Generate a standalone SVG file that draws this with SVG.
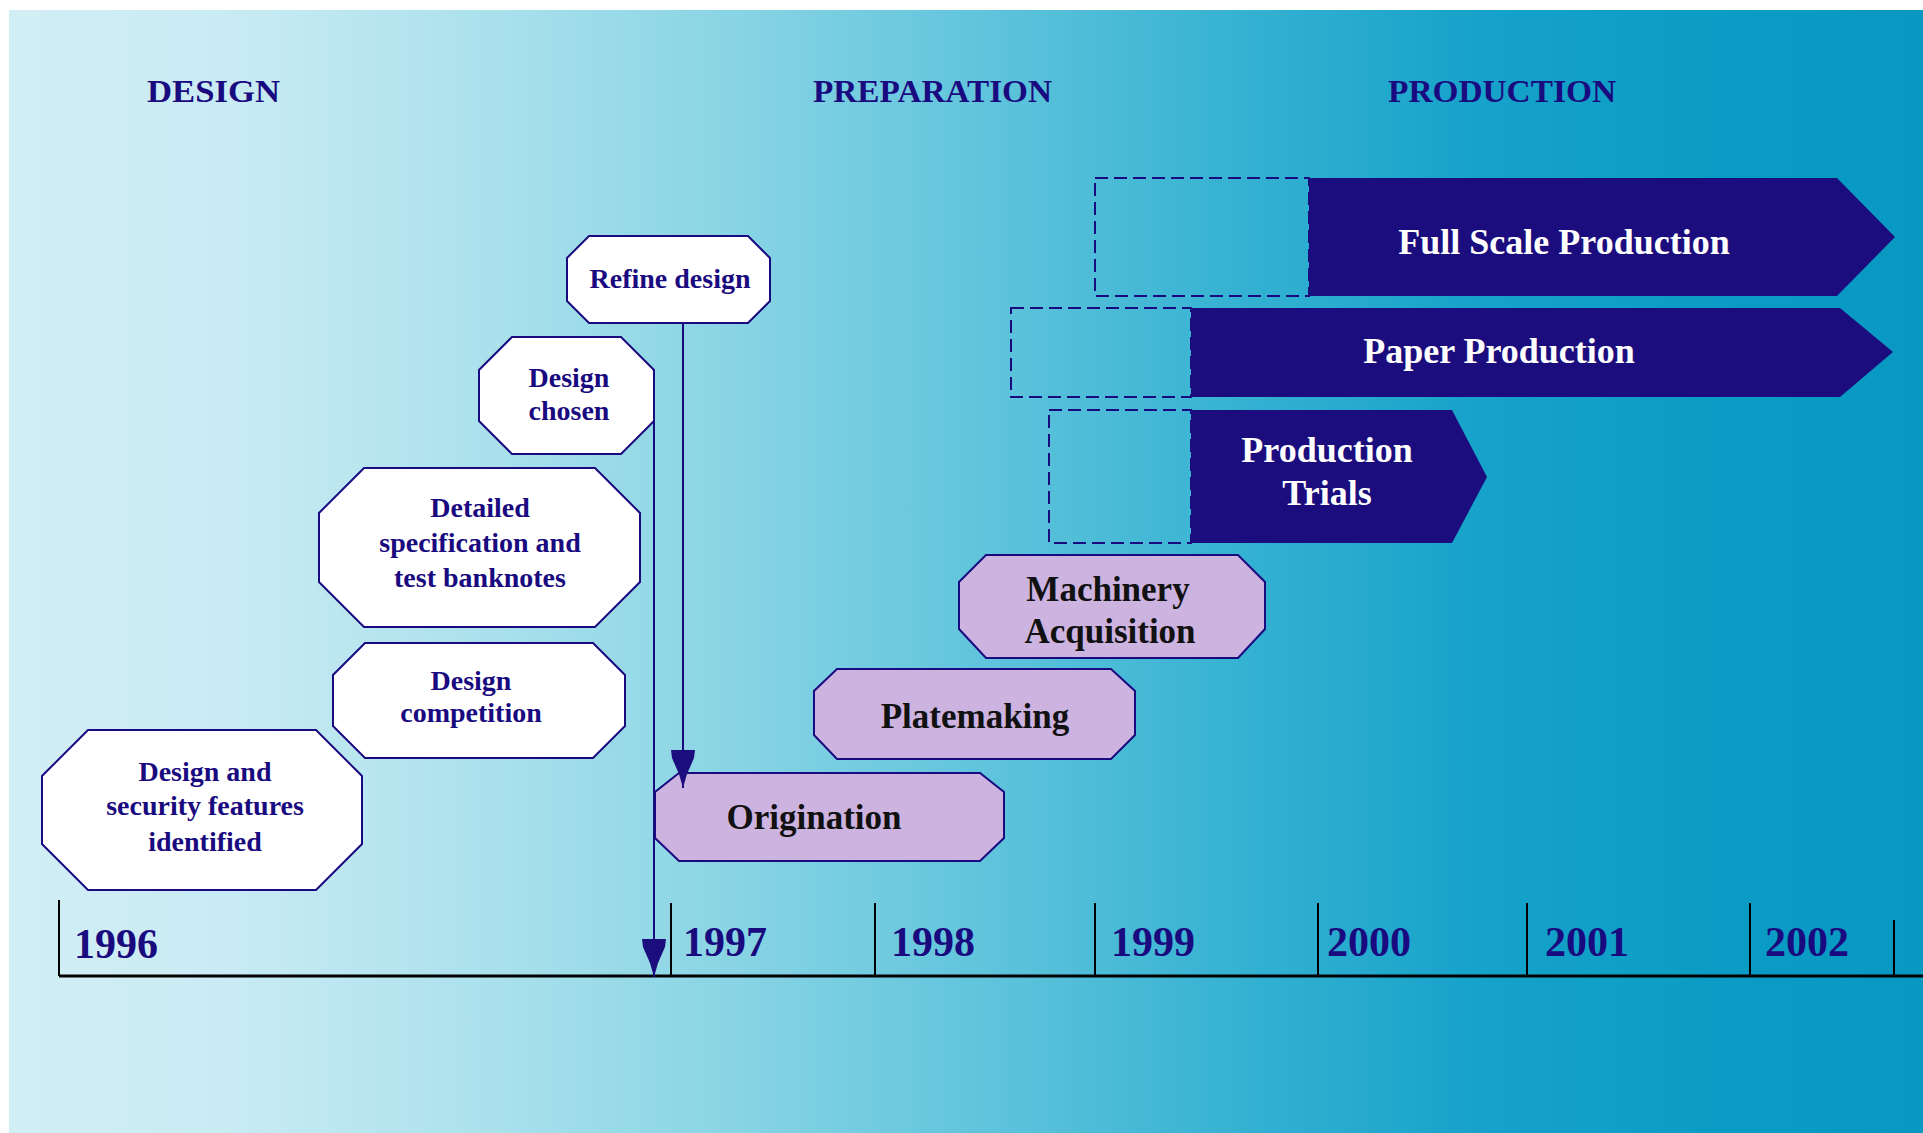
<svg xmlns="http://www.w3.org/2000/svg" width="1923" height="1133" viewBox="0 0 1923 1133">
  <defs>
    <linearGradient id="bg" x1="0" y1="0" x2="1" y2="0">
      <stop offset="0" stop-color="#d2eef5"/>
      <stop offset="0.12" stop-color="#c8ebf3"/>
      <stop offset="0.26" stop-color="#a8e0ec"/>
      <stop offset="0.38" stop-color="#88d4e4"/>
      <stop offset="0.51" stop-color="#60c4dc"/>
      <stop offset="0.64" stop-color="#36b2d2"/>
      <stop offset="0.77" stop-color="#16a2ca"/>
      <stop offset="0.9" stop-color="#0a9cc4"/>
      <stop offset="1" stop-color="#0898c2"/>
    </linearGradient>
    <marker id="arrow" markerUnits="userSpaceOnUse" markerWidth="40" markerHeight="28" viewBox="0 -14 40 28" refX="38" refY="0" orient="auto">
      <path d="M0,-12 L8,-11 L24,-4 L38,0 L24,4 L8,11 L0,12 Z" fill="#1c0d7e"/>
    </marker>
    <style>
      .hdr { font-family: "Liberation Serif", "Times New Roman", serif; font-weight: bold; font-size: 32px; fill: #1a0a80; }
      .year { font-family: "Liberation Serif", "Times New Roman", serif; font-weight: bold; font-size: 42px; fill: #1a0a80; }
      .step { fill: #ffffff; stroke: #1a0a80; stroke-width: 2; }
      .step text, .steptxt { font-family: "Liberation Serif", "Times New Roman", serif; font-weight: bold; font-size: 28px; fill: #1a0a80; stroke: none; text-anchor: middle; }
      .prep { fill: #cdb3e0; stroke: #1a0a80; stroke-width: 2; }
      .preptxt { font-family: "Liberation Serif", "Times New Roman", serif; font-weight: bold; font-size: 35px; fill: #111111; text-anchor: middle; }
      .ghost { fill: none; stroke: #1a0a80; stroke-width: 2; stroke-dasharray: 13 6; }
      .bar { fill: #1c0d7e; }
      .bartxt { font-family: "Liberation Serif", "Times New Roman", serif; font-weight: bold; font-size: 36px; fill: #ffffff; text-anchor: middle; }
      .axis { stroke: #000000; fill: none; }
      .link { stroke: #1a0a80; stroke-width: 2; fill: none; marker-end: url(#arrow); }
    </style>
  </defs>

  <!-- backdrop -->
  <rect x="9" y="10" width="1914" height="1123" fill="url(#bg)"/>

  <!-- phase headings -->
  <text class="hdr" x="147" y="102" textLength="133" lengthAdjust="spacingAndGlyphs">DESIGN</text>
  <text class="hdr" x="813" y="102" textLength="239" lengthAdjust="spacingAndGlyphs">PREPARATION</text>
  <text class="hdr" x="1388" y="102" textLength="228" lengthAdjust="spacingAndGlyphs">PRODUCTION</text>

  <!-- time axis -->
  <g id="timeline">
    <line class="axis" x1="59" y1="976" x2="1923" y2="976" stroke-width="3"/>
    <g class="axis" stroke-width="2">
      <line x1="59" y1="900" x2="59" y2="976"/>
      <line x1="671" y1="903" x2="671" y2="976"/>
      <line x1="875" y1="903" x2="875" y2="976"/>
      <line x1="1095" y1="903" x2="1095" y2="976"/>
      <line x1="1318" y1="903" x2="1318" y2="976"/>
      <line x1="1527" y1="903" x2="1527" y2="976"/>
      <line x1="1750" y1="903" x2="1750" y2="976"/>
      <line x1="1894" y1="920" x2="1894" y2="976"/>
    </g>
    <text class="year" x="74" y="958">1996</text>
    <text class="year" x="683" y="956">1997</text>
    <text class="year" x="891" y="956">1998</text>
    <text class="year" x="1111" y="956">1999</text>
    <text class="year" x="1327" y="956">2000</text>
    <text class="year" x="1545" y="956">2001</text>
    <text class="year" x="1765" y="956">2002</text>
  </g>

  <!-- design stage -->
  <g id="design-security">
    <polygon class="step" stroke="#000000" points="88,730 316,730 362,776 362,844 316,890 88,890 42,844 42,776"/>
    <text class="steptxt" x="205" y="781">Design and</text>
    <text class="steptxt" x="205" y="815">security features</text>
    <text class="steptxt" x="205" y="851">identified</text>
  </g>
  <g id="design-competition">
    <polygon class="step" points="365,643 593,643 625,675 625,726 593,758 365,758 333,726 333,675"/>
    <text class="steptxt" x="471" y="690">Design</text>
    <text class="steptxt" x="471" y="722">competition</text>
  </g>
  <g id="detailed-spec">
    <polygon class="step" points="364,468 595,468 640,513 640,582 595,627 364,627 319,582 319,513"/>
    <text class="steptxt" x="480" y="517">Detailed</text>
    <text class="steptxt" x="480" y="552">specification and</text>
    <text class="steptxt" x="480" y="587">test banknotes</text>
  </g>
  <g id="design-chosen">
    <polygon class="step" points="512,337 621,337 654,370 654,421 621,454 512,454 479,421 479,370"/>
    <text class="steptxt" x="569" y="387">Design</text>
    <text class="steptxt" x="569" y="420">chosen</text>
  </g>
  <g id="refine-design">
    <polygon class="step" points="589,236 748,236 770,258 770,301 748,323 589,323 567,301 567,258"/>
    <text class="steptxt" x="670" y="288">Refine design</text>
  </g>

  <!-- preparation stage -->
  <g id="origination">
    <polygon class="prep" points="679,773 980,773 1004,792 1004,838 980,861 679,861 655,838 655,792"/>
    <text class="preptxt" x="814" y="829">Origination</text>
  </g>
  <g id="platemaking">
    <polygon class="prep" points="837,669 1111,669 1135,691 1135,735 1111,759 837,759 814,735 814,691"/>
    <text class="preptxt" x="975" y="728">Platemaking</text>
  </g>
  <g id="machinery">
    <polygon class="prep" points="986,555 1238,555 1265,582 1265,629 1238,658 986,658 959,629 959,582"/>
    <text class="preptxt" x="1108" y="601">Machinery</text>
    <text class="preptxt" x="1110" y="643">Acquisition</text>
  </g>

  <!-- production stage -->
  <g id="production-trials">
    <rect class="ghost" x="1049" y="410" width="142" height="133"/>
    <polygon class="bar" points="1191,410 1452,410 1487,477 1452,543 1191,543"/>
    <text class="bartxt" x="1327" y="462">Production</text>
    <text class="bartxt" x="1327" y="505">Trials</text>
  </g>
  <g id="paper-production">
    <rect class="ghost" x="1011" y="308" width="180" height="89"/>
    <polygon class="bar" points="1191,308 1840,308 1893,352 1840,397 1191,397"/>
    <text class="bartxt" x="1499" y="363">Paper Production</text>
  </g>
  <g id="full-scale">
    <rect class="ghost" x="1095" y="178" width="214" height="118"/>
    <polygon class="bar" points="1309,178 1837,178 1895,237 1837,296 1309,296"/>
    <text class="bartxt" x="1564" y="254">Full Scale Production</text>
  </g>

  <!-- connectors -->
  <g id="connectors">
    <line class="link" x1="654" y1="370" x2="654" y2="977"/>
    <line class="link" x1="683" y1="323" x2="683" y2="788"/>
  </g>
</svg>
